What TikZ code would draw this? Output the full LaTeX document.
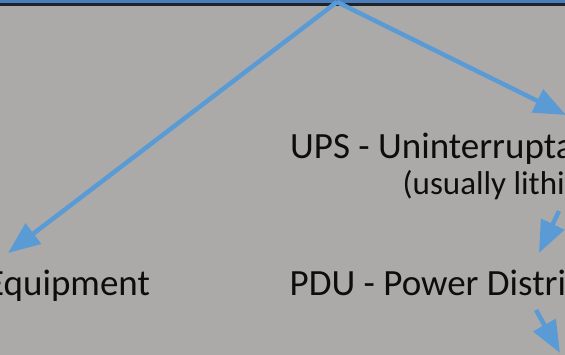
\documentclass[tikz,border=0pt]{standalone}
\usepackage{fontspec}
\setmainfont{Carlito}
\usetikzlibrary{arrows.meta}
\definecolor{bggrey}{RGB}{172,170,169}
\definecolor{barblue}{RGB}{74,126,187}
\definecolor{bardark}{RGB}{32,36,40}
\definecolor{arrowblue}{RGB}{91,155,213}
\definecolor{txt}{RGB}{13,13,13}
\tikzset{
  flow/.style={draw=arrowblue, line width=4.5pt,
    -{Triangle[length=32pt,width=25pt]}},
  bigtext/.style={anchor=base west, inner sep=0pt, text=txt,
    font=\fontsize{37}{44}\selectfont},
  subtext/.style={anchor=base west, inner sep=0pt, text=txt,
    font=\fontsize{33}{40}\selectfont}
}
\begin{document}
\begin{tikzpicture}[x=1pt,y=-1pt]
  \useasboundingbox (0,0) rectangle (565,355);
  \clip (0,0) rectangle (565,355);
  \fill[bggrey] (0,0) rectangle (565,355);
  \fill[barblue] (0,0) rectangle (565,3.5);
  \fill[bardark] (0,3.5) rectangle (565,6.5);

  \node[bigtext] (equip) at (-14,296) {Equipment};
  \node[bigtext] (ups) at (290,159) {UPS - Uninterrupta};
  \node[subtext] (usual) at (402.5,195) {(usually lithiu};
  \node[bigtext] (pdu) at (289.5,296) {PDU - Power Distri};

  \coordinate (apex) at (337,2);
  \coordinate (tipL) at (8,253);
  \coordinate (tipR) at (566,115);
  \coordinate (upsout) at (559,211);
  \coordinate (pduin) at (539,253);
  \coordinate (pduout) at (536,310);
  \coordinate (nextin) at (560,353);

  \draw[flow] (apex) -- (tipL);
  \draw[flow] (apex) -- (tipR);
  \draw[flow] (upsout) -- (pduin);
  \draw[flow] (pduout) -- (nextin);
\end{tikzpicture}
\end{document}
